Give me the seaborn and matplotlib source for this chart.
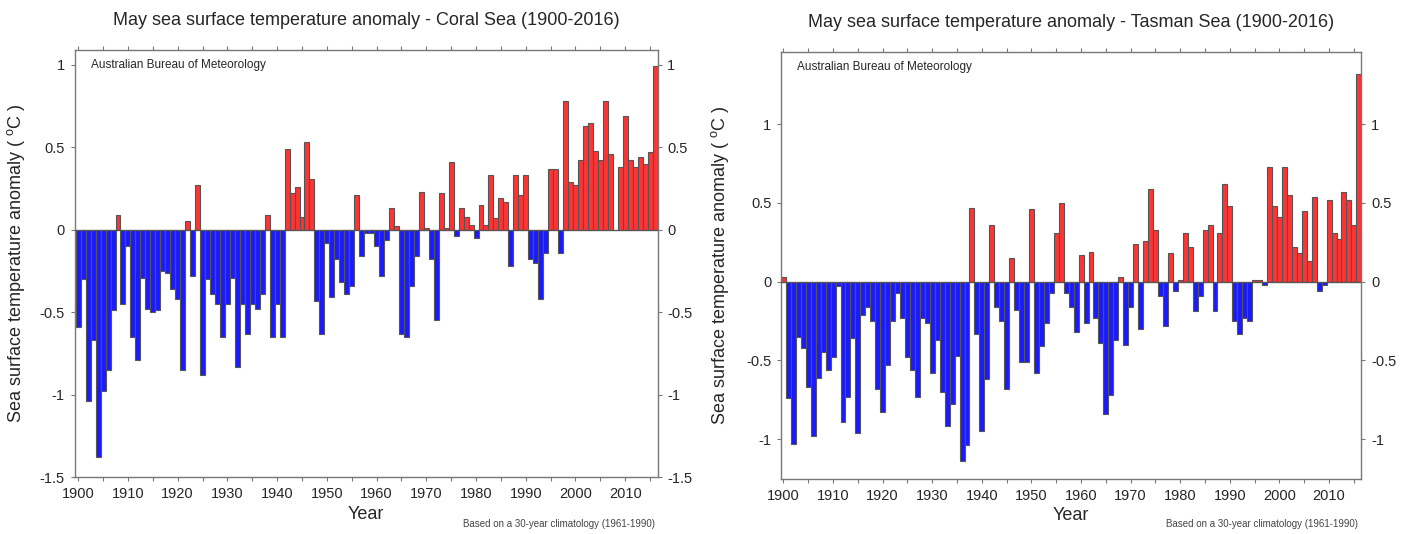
import numpy as np
import pandas as pd
import matplotlib
matplotlib.use("Agg")
import matplotlib.pyplot as plt
import seaborn as sns

# May SST anomalies (deg C), 1900-2016
years = list(range(1900, 2017))

coral = [
    -0.59, -0.30, -1.04, -0.67, -1.38, -0.98, -0.85, -0.49, 0.09, -0.45,
    -0.10, -0.65, -0.79, -0.29, -0.48, -0.50, -0.49, -0.25, -0.26, -0.36,
    -0.42, -0.85, 0.05, -0.28, 0.27, -0.88, -0.30, -0.39, -0.45, -0.65,
    -0.45, -0.29, -0.83, -0.45, -0.63, -0.45, -0.48, -0.39, 0.09, -0.65,
    -0.45, -0.65, 0.49, 0.22, 0.26, 0.08, 0.53, 0.31, -0.43, -0.63,
    -0.08, -0.41, -0.18, -0.32, -0.39, -0.34, 0.21, -0.16, -0.02, -0.02,
    -0.10, -0.28, -0.06, 0.13, 0.02, -0.63, -0.65, -0.34, -0.16, 0.23,
    0.01, -0.18, -0.55, 0.22, 0.01, 0.41, -0.04, 0.13, 0.08, 0.03,
    -0.05, 0.15, 0.03, 0.33, 0.07, 0.19, 0.17, -0.22, 0.33, 0.21,
    0.33, -0.18, -0.20, -0.42, -0.14, 0.37, 0.37, -0.14, 0.78, 0.29,
    0.27, 0.42, 0.63, 0.65, 0.48, 0.42, 0.78, 0.46, 0.00, 0.38,
    0.69, 0.42, 0.38, 0.44, 0.40, 0.47, 0.99,
]

tasman = [
    0.03, -0.74, -1.03, -0.35, -0.42, -0.67, -0.98, -0.61, -0.45, -0.56,
    -0.48, -0.03, -0.89, -0.73, -0.36, -0.96, -0.21, -0.16, -0.25, -0.68,
    -0.83, -0.53, -0.25, -0.07, -0.23, -0.48, -0.56, -0.73, -0.23, -0.26,
    -0.58, -0.37, -0.70, -0.92, -0.78, -0.47, -1.14, -1.04, 0.47, -0.33,
    -0.95, -0.62, 0.36, -0.16, -0.25, -0.68, 0.15, -0.18, -0.51, -0.51,
    0.46, -0.58, -0.41, -0.26, -0.07, 0.31, 0.50, -0.07, -0.16, -0.32,
    0.17, -0.26, 0.19, -0.23, -0.39, -0.84, -0.72, -0.37, 0.03, -0.40,
    -0.16, 0.24, -0.30, 0.26, 0.59, 0.33, -0.09, -0.28, 0.18, -0.06,
    0.01, 0.31, 0.22, -0.19, -0.09, 0.33, 0.36, -0.19, 0.31, 0.62,
    0.48, -0.25, -0.33, -0.23, -0.25, 0.01, 0.01, -0.02, 0.73, 0.48,
    0.41, 0.73, 0.55, 0.22, 0.18, 0.45, 0.13, 0.54, -0.06, -0.02,
    0.52, 0.31, 0.27, 0.57, 0.52, 0.36, 1.32,
]

titles = [
    "May sea surface temperature anomaly - Coral Sea (1900-2016)",
    "May sea surface temperature anomaly - Tasman Sea (1900-2016)",
]
coral_yticks = [-1.5, -1, -0.5, 0, 0.5, 1]
tasman_yticks = [-1, -0.5, 0, 0.5, 1]
ytick_labels = {-1.5: "-1.5", -1: "-1", -0.5: "-0.5", 0: "0", 0.5: "0.5", 1: "1"}

RED = "#ff3333"
BLUE = "#1a1aff"
EDGE = "#555555"
FRAME = "#777777"

sns.set_style("ticks")
plt.rcParams["font.family"] = ["Liberation Sans", "DejaVu Sans"]

fig = plt.figure(figsize=(14.11, 5.34), dpi=100)
ax1 = fig.add_axes([0.0528, 0.1067, 0.4132, 0.7997])
ax2 = fig.add_axes([0.5535, 0.1024, 0.4113, 0.8008])


def draw(ax, vals, title, yticks, ylim, xlim, ylab_x, xlab_y, note_xy):
    df = pd.DataFrame({"year": years, "anom": vals})
    df["sign"] = np.where(df["anom"] >= 0, "pos", "neg")
    sns.barplot(data=df, x="year", y="anom", hue="sign",
                palette={"pos": RED, "neg": BLUE}, native_scale=True,
                width=1, dodge=False, saturation=1, edgecolor=EDGE,
                linewidth=0.8, legend=False, ax=ax)
    ax.axhline(0, color=EDGE, lw=0.9, zorder=3)
    ax.set_xlim(*xlim)
    ax.set_ylim(*ylim)

    xt = list(range(1900, 2016, 5))
    ax.set_xticks(xt)
    ax.set_xticklabels([str(t) if t % 10 == 0 else "" for t in xt])
    ax.set_yticks(yticks)
    ax.set_yticklabels([ytick_labels[t] for t in yticks])
    ax.tick_params(axis="both", direction="out", length=3, width=0.8,
                   color=FRAME, labelsize=10.5, pad=4,
                   top=True, right=True, labelright=True, labeltop=False)
    for s in ax.spines.values():
        s.set_color(FRAME)
        s.set_linewidth(1.0)

    ax.set_xlabel("Year", fontsize=13)
    ax.xaxis.set_label_coords(0.5, xlab_y)
    ax.set_ylabel("Sea surface temperature anomaly ( $\\mathregular{^o}$C )",
                  fontsize=13)
    ax.yaxis.set_label_coords(ylab_x, 0.5)

    ax.text(0.5, 1.068, title, transform=ax.transAxes, ha="center",
            va="center", fontsize=13)
    ax.text(0.028, 0.965, "Australian Bureau of Meteorology",
            transform=ax.transAxes, ha="left", va="center", fontsize=8.5)
    ax.text(note_xy[0], note_xy[1], "Based on a 30-year climatology (1961-1990)",
            transform=ax.transAxes, ha="right", va="center", fontsize=7,
            color="#444444")


draw(ax1, coral, titles[0], coral_yticks, (-1.5, 1.09), (1899.25, 2016.5),
     -0.081, -0.068, (0.996, -0.11))
draw(ax2, tasman, titles[1], tasman_yticks, (-1.256, 1.46), (1899.5, 2016.5),
     -0.086, -0.064, (0.994, -0.104))

fig.savefig("out.png", dpi=100)
